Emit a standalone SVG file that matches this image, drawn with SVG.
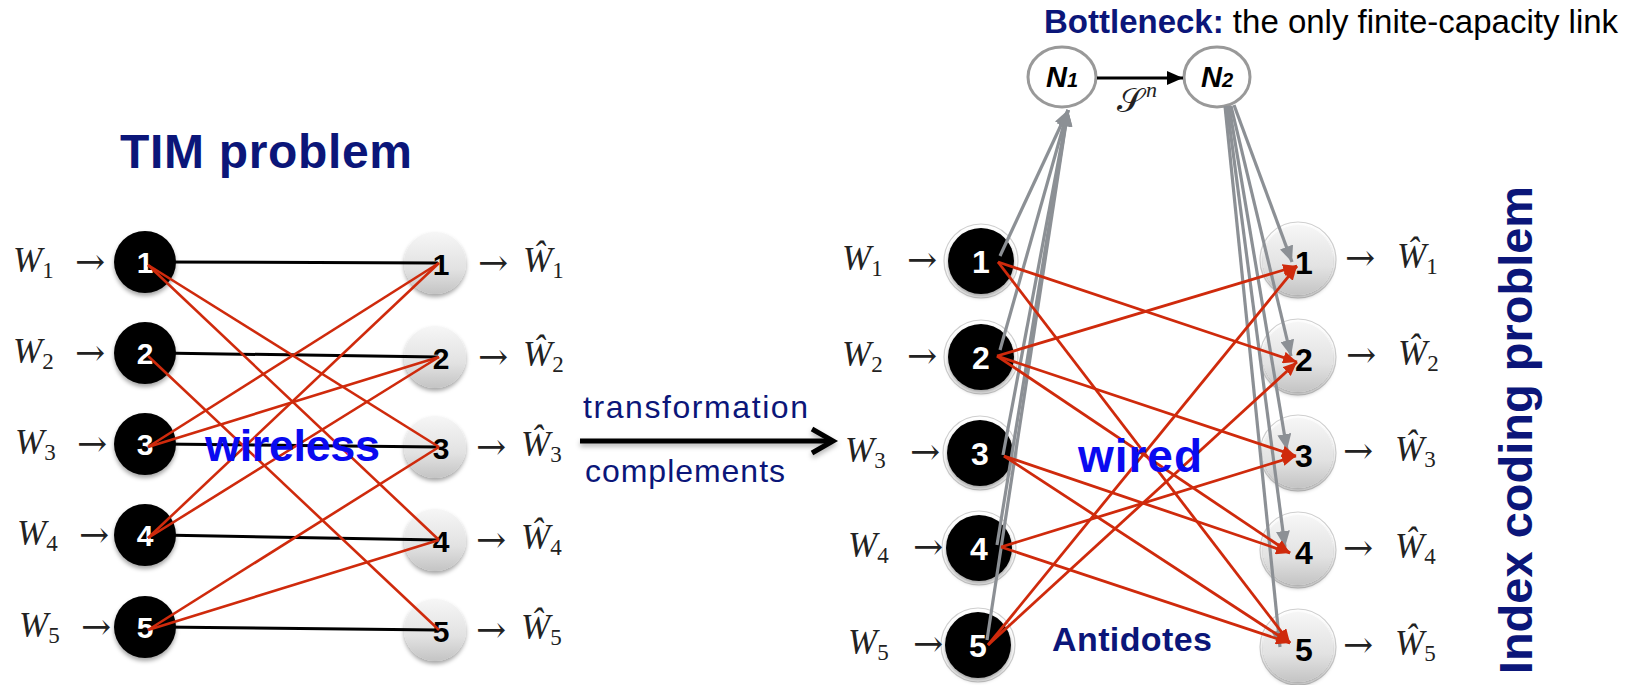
<svg xmlns="http://www.w3.org/2000/svg" width="1648" height="685" viewBox="0 0 1648 685">
  <defs>
    <linearGradient id="greyFill" x1="0" y1="0" x2="0" y2="1">
      <stop offset="0" stop-color="#f6f6f6"/>
      <stop offset="0.6" stop-color="#e2e2e2"/>
      <stop offset="1" stop-color="#c4c4c4"/>
    </linearGradient>
    <filter id="shadow" x="-30%" y="-30%" width="160%" height="170%">
      <feDropShadow dx="0" dy="3" stdDeviation="2.2" flood-color="#000" flood-opacity="0.35"/>
    </filter>
    <filter id="softShadow" x="-10%" y="-100%" width="120%" height="300%">
      <feDropShadow dx="0" dy="3" stdDeviation="2.5" flood-color="#000" flood-opacity="0.3"/>
    </filter>
    <marker id="headGrey" markerUnits="userSpaceOnUse" markerWidth="16" markerHeight="14" refX="16" refY="7" orient="auto">
      <path d="M0,0 L16,7 L0,14 z" fill="#8c9095"/>
    </marker>
    <marker id="headRed" markerUnits="userSpaceOnUse" markerWidth="14" markerHeight="12" refX="14" refY="6" orient="auto">
      <path d="M0,0 L14,6 L0,12 z" fill="#cf2a0c"/>
    </marker>
    <marker id="headBlack" markerUnits="userSpaceOnUse" markerWidth="16" markerHeight="14" refX="16" refY="7" orient="auto">
      <path d="M0,0 L16,7 L0,14 z" fill="#000"/>
    </marker>
    <style>
      .math { font-family: "Liberation Serif", "DejaVu Serif", serif; fill: #222; }
      .w { font-style: italic; font-size: 35px; }
      .sub { font-style: normal; font-size: 23px; }
      .arr { font-family: "DejaVu Serif", serif; font-size: 36px; }
      .blk { fill: #000; filter: url(#shadow); }
      .gry { fill: url(#greyFill); filter: url(#shadow); }
      .halo { fill: #fff; stroke: #cfcfcf; stroke-width: 1.2; }
      .numW { font-family: "Liberation Sans", Arial, sans-serif; font-weight: bold; fill: #fff; text-anchor: middle; }
      .numB { font-family: "Liberation Sans", Arial, sans-serif; font-weight: bold; fill: #000; text-anchor: middle; }
      .navy { font-family: "Liberation Sans", Arial, sans-serif; fill: #0b1679; }
      .bold { font-weight: bold; }
      .blue { font-family: "Liberation Sans", Arial, sans-serif; font-weight: bold; fill: #0a0af0; }
      .wire { stroke: #000; stroke-width: 3; fill: none; }
      .red { stroke: #cf2a0c; stroke-width: 2.6; fill: none; }
      .redA { stroke: #cf2a0c; stroke-width: 2.8; fill: none; marker-end: url(#headRed); }
      .grey { stroke: #8c9095; stroke-width: 3.2; fill: none; marker-end: url(#headGrey); }
      .relay { fill: #fff; stroke: #999; stroke-width: 3; }
      .relayTxt { font-family: "Liberation Sans", Arial, sans-serif; font-weight: bold; font-style: italic; fill: #000; text-anchor: middle; }
    </style>
  </defs>

  <rect width="1648" height="685" fill="#fff"/>

  <!-- headings -->
  <text class="navy bold" x="120" y="168" font-size="48" textLength="292">TIM problem</text>
  <text x="1044" y="33" font-family="Liberation Sans, Arial, sans-serif" font-size="33"><tspan font-weight="bold" fill="#0b1679">Bottleneck:</tspan><tspan fill="#000"> the only finite-capacity link</tspan></text>
  <text class="navy bold" font-size="47" text-anchor="middle" transform="translate(1532,430) rotate(-90)">Index coding problem</text>

  <!-- TIM network: transmitters -->
  <g id="tx1"><circle class="blk" cx="145" cy="262" r="31"/><text class="numW" x="145" y="273" font-size="30">1</text></g>
  <g id="tx2"><circle class="blk" cx="145" cy="353" r="31"/><text class="numW" x="145" y="364" font-size="30">2</text></g>
  <g id="tx3"><circle class="blk" cx="145" cy="444" r="31"/><text class="numW" x="145" y="455" font-size="30">3</text></g>
  <g id="tx4"><circle class="blk" cx="145" cy="535" r="31"/><text class="numW" x="145" y="546" font-size="30">4</text></g>
  <g id="tx5"><circle class="blk" cx="145" cy="627" r="31"/><text class="numW" x="145" y="638" font-size="30">5</text></g>

  <!-- TIM network: receivers -->
  <g id="rx1"><circle class="gry" cx="435" cy="263" r="31"/><text class="numB" x="441" y="275" font-size="30">1</text></g>
  <g id="rx2"><circle class="gry" cx="435" cy="357" r="31"/><text class="numB" x="441" y="369" font-size="30">2</text></g>
  <g id="rx3"><circle class="gry" cx="435" cy="447" r="31"/><text class="numB" x="441" y="459" font-size="30">3</text></g>
  <g id="rx4"><circle class="gry" cx="435" cy="540" r="31"/><text class="numB" x="441" y="552" font-size="30">4</text></g>
  <g id="rx5"><circle class="gry" cx="435" cy="630" r="31"/><text class="numB" x="441" y="642" font-size="30">5</text></g>

  <!-- index coding network: sources -->
  <g id="src1"><circle class="halo" cx="981" cy="261" r="37"/><circle class="blk" cx="981" cy="261" r="33"/><text class="numW" x="981" y="273" font-size="32">1</text></g>
  <g id="src2"><circle class="halo" cx="981" cy="357" r="37"/><circle class="blk" cx="981" cy="357" r="33"/><text class="numW" x="981" y="369" font-size="32">2</text></g>
  <g id="src3"><circle class="halo" cx="980" cy="453" r="37"/><circle class="blk" cx="980" cy="453" r="33"/><text class="numW" x="980" y="465" font-size="32">3</text></g>
  <g id="src4"><circle class="halo" cx="979" cy="548" r="37"/><circle class="blk" cx="979" cy="548" r="33"/><text class="numW" x="979" y="560" font-size="32">4</text></g>
  <g id="src5"><circle class="halo" cx="978" cy="645" r="37"/><circle class="blk" cx="978" cy="645" r="33"/><text class="numW" x="978" y="657" font-size="32">5</text></g>

  <!-- index coding network: sinks -->
  <g id="dst1"><circle class="halo" cx="1298" cy="260" r="38"/><circle class="gry" cx="1298" cy="260" r="35"/><text class="numB" x="1304" y="274" font-size="32">1</text></g>
  <g id="dst2"><circle class="halo" cx="1298" cy="357" r="38"/><circle class="gry" cx="1298" cy="357" r="35"/><text class="numB" x="1304" y="371" font-size="32">2</text></g>
  <g id="dst3"><circle class="halo" cx="1298" cy="453" r="38"/><circle class="gry" cx="1298" cy="453" r="35"/><text class="numB" x="1304" y="467" font-size="32">3</text></g>
  <g id="dst4"><circle class="halo" cx="1298" cy="550" r="38"/><circle class="gry" cx="1298" cy="550" r="35"/><text class="numB" x="1304" y="564" font-size="32">4</text></g>
  <g id="dst5"><circle class="halo" cx="1298" cy="647" r="38"/><circle class="gry" cx="1298" cy="647" r="35"/><text class="numB" x="1304" y="661" font-size="32">5</text></g>

  <!-- bottleneck relays -->
  <g id="N1"><ellipse class="relay" cx="1062" cy="77" rx="34" ry="30"/><text class="relayTxt" x="1062" y="87" font-size="29">N<tspan font-size="20">1</tspan></text></g>
  <g id="N2"><ellipse class="relay" cx="1217" cy="77" rx="33" ry="30"/><text class="relayTxt" x="1217" y="87" font-size="29">N<tspan font-size="20">2</tspan></text></g>

  <!-- connectors -->
  <g id="connectors">
    <!-- direct links -->
    <line class="wire" x1="160" y1="262" x2="438" y2="263"/>
    <line class="wire" x1="160" y1="353" x2="438" y2="357"/>
    <line class="wire" x1="160" y1="444" x2="438" y2="447"/>
    <line class="wire" x1="160" y1="535" x2="438" y2="540"/>
    <line class="wire" x1="160" y1="627" x2="438" y2="630"/>
    <!-- interference links -->
    <line class="red" x1="148" y1="265" x2="439" y2="447"/>
    <line class="red" x1="148" y1="265" x2="439" y2="540"/>
    <line class="red" x1="148" y1="356" x2="439" y2="630"/>
    <line class="red" x1="148" y1="447" x2="439" y2="263"/>
    <line class="red" x1="148" y1="447" x2="439" y2="357"/>
    <line class="red" x1="148" y1="538" x2="439" y2="263"/>
    <line class="red" x1="148" y1="538" x2="439" y2="357"/>
    <line class="red" x1="148" y1="630" x2="439" y2="447"/>
    <line class="red" x1="148" y1="630" x2="439" y2="540"/>

    <!-- transformation arrow -->
    <g filter="url(#softShadow)">
      <line x1="580" y1="441" x2="830" y2="441" stroke="#000" stroke-width="5"/>
      <polyline points="812,429 833,441 812,453" fill="none" stroke="#000" stroke-width="5" stroke-linejoin="miter"/>
    </g>

    <!-- sources to N1 -->
    <line class="grey" x1="1000" y1="256" x2="1068" y2="110"/>
    <line class="grey" x1="1000" y1="350" x2="1068" y2="110"/>
    <line class="grey" x1="1003" y1="455" x2="1068" y2="110"/>
    <line class="grey" x1="997" y1="545" x2="1068" y2="110"/>
    <line class="grey" x1="987" y1="640" x2="1068" y2="110"/>
    <!-- bottleneck link -->
    <line x1="1097" y1="78" x2="1183" y2="78" stroke="#000" stroke-width="3" marker-end="url(#headBlack)"/>
    <!-- N2 to sinks -->
    <line class="grey" x1="1234" y1="105" x2="1292" y2="262"/>
    <line class="grey" x1="1231" y1="106" x2="1291" y2="356"/>
    <line class="grey" x1="1229" y1="106" x2="1287" y2="450"/>
    <line class="grey" x1="1227" y1="106" x2="1285" y2="547"/>
    <line class="grey" x1="1225" y1="106" x2="1280" y2="647"/>
    <!-- antidote links -->
    <line class="redA" x1="997" y1="356" x2="1297" y2="266"/>
    <line class="redA" x1="988" y1="645" x2="1297" y2="266"/>
    <line class="redA" x1="998" y1="262" x2="1297" y2="362"/>
    <line class="redA" x1="988" y1="645" x2="1297" y2="362"/>
    <line class="redA" x1="997" y1="356" x2="1296" y2="456"/>
    <line class="redA" x1="1001" y1="547" x2="1296" y2="456"/>
    <line class="redA" x1="997" y1="356" x2="1290" y2="553"/>
    <line class="redA" x1="1004" y1="456" x2="1290" y2="553"/>
    <line class="redA" x1="998" y1="262" x2="1290" y2="643"/>
    <line class="redA" x1="1004" y1="456" x2="1290" y2="643"/>
    <line class="redA" x1="1001" y1="547" x2="1290" y2="643"/>
  </g>

  <!-- link labels -->
  <text class="math" x="1117" y="112" font-size="34">𝒮</text>
  <text class="math" x="1146" y="97" font-size="22" font-style="italic">n</text>
  <text class="navy" x="583" y="418" font-size="32" textLength="225">transformation</text>
  <text class="navy" x="585" y="482" font-size="32" textLength="200">complements</text>
  <text class="blue" x="205" y="461" font-size="45" textLength="175">wireless</text>
  <text class="blue" x="1078" y="472" font-size="46" textLength="124">wired</text>
  <text class="navy bold" x="1052" y="651" font-size="34" textLength="160">Antidotes</text>

  <!-- message labels, TIM side -->
  <g class="math">
    <text class="w" x="13" y="272">W<tspan class="sub" dy="6">1</tspan></text>
    <text class="w" x="13" y="363">W<tspan class="sub" dy="6">2</tspan></text>
    <text class="w" x="15" y="454">W<tspan class="sub" dy="6">3</tspan></text>
    <text class="w" x="17" y="545">W<tspan class="sub" dy="6">4</tspan></text>
    <text class="w" x="19" y="637">W<tspan class="sub" dy="6">5</tspan></text>
    <text class="arr" x="75" y="274">→</text>
    <text class="arr" x="75" y="365">→</text>
    <text class="arr" x="77" y="456">→</text>
    <text class="arr" x="79" y="547">→</text>
    <text class="arr" x="81" y="639">→</text>
    <text class="arr" x="478" y="275">→</text>
    <text class="arr" x="478" y="369">→</text>
    <text class="arr" x="476" y="459">→</text>
    <text class="arr" x="476" y="552">→</text>
    <text class="arr" x="476" y="642">→</text>
    <text class="w" x="523" y="272">Ŵ<tspan class="sub" dy="6">1</tspan></text>
    <text class="w" x="523" y="366">Ŵ<tspan class="sub" dy="6">2</tspan></text>
    <text class="w" x="521" y="456">Ŵ<tspan class="sub" dy="6">3</tspan></text>
    <text class="w" x="521" y="549">Ŵ<tspan class="sub" dy="6">4</tspan></text>
    <text class="w" x="521" y="639">Ŵ<tspan class="sub" dy="6">5</tspan></text>
  </g>

  <!-- message labels, index coding side -->
  <g class="math">
    <text class="w" x="842" y="270">W<tspan class="sub" dy="6">1</tspan></text>
    <text class="w" x="842" y="366">W<tspan class="sub" dy="6">2</tspan></text>
    <text class="w" x="845" y="462">W<tspan class="sub" dy="6">3</tspan></text>
    <text class="w" x="848" y="557">W<tspan class="sub" dy="6">4</tspan></text>
    <text class="w" x="848" y="654">W<tspan class="sub" dy="6">5</tspan></text>
    <text class="arr" x="907" y="272">→</text>
    <text class="arr" x="907" y="368">→</text>
    <text class="arr" x="910" y="464">→</text>
    <text class="arr" x="913" y="559">→</text>
    <text class="arr" x="913" y="656">→</text>
    <text class="arr" x="1345" y="270">→</text>
    <text class="arr" x="1346" y="367">→</text>
    <text class="arr" x="1343" y="463">→</text>
    <text class="arr" x="1343" y="560">→</text>
    <text class="arr" x="1343" y="657">→</text>
    <text class="w" x="1397" y="268">Ŵ<tspan class="sub" dy="6">1</tspan></text>
    <text class="w" x="1398" y="365">Ŵ<tspan class="sub" dy="6">2</tspan></text>
    <text class="w" x="1395" y="461">Ŵ<tspan class="sub" dy="6">3</tspan></text>
    <text class="w" x="1395" y="558">Ŵ<tspan class="sub" dy="6">4</tspan></text>
    <text class="w" x="1395" y="655">Ŵ<tspan class="sub" dy="6">5</tspan></text>
  </g>
</svg>
